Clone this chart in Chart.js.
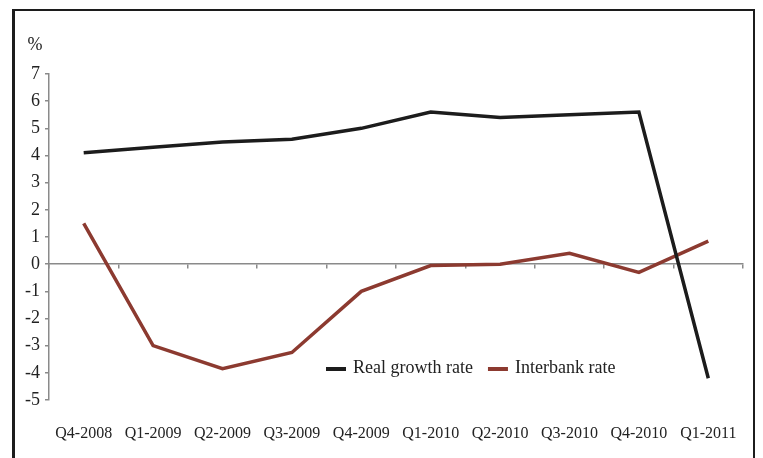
<!DOCTYPE html>
<html>
<head>
<meta charset="utf-8">
<script src="https://cdn.jsdelivr.net/npm/chart.js@4.4.1/dist/chart.umd.min.js"></script>
<style>
  html, body { margin: 0; padding: 0; background: #fff; overflow: hidden; }
  #wrap { position: relative; width: 763px; height: 458px; }
  #frame {
    position: absolute; left: 12px; top: 9px; width: 738px; height: 500px;
    border-left: 3px solid #1c1c1c; border-top: 2px solid #1c1c1c; border-right: 2px solid #1c1c1c;
    pointer-events: none;
  }
  canvas { position: absolute; left: 0; top: 0; }
</style>
</head>
<body>
<div id="wrap">
  <div id="frame"></div>
  <canvas id="chart" width="763" height="458"></canvas>
</div>
<script>
const quarters = ['Q4-2008', 'Q1-2009', 'Q2-2009', 'Q3-2009', 'Q4-2009',
  'Q1-2010', 'Q2-2010', 'Q3-2010', 'Q4-2010', 'Q1-2011'];
const realGrowth = [4.1, 4.3, 4.5, 4.6, 5.0, 5.6, 5.4, 5.5, 5.6, -4.2];
const interbank = [1.5, -3.0, -3.85, -3.25, -1.0, -0.05, 0.0, 0.4, -0.3, 0.85];
const yMin = -5;
const yMax = 7;

const serif = "'Liberation Serif', 'DejaVu Serif', serif";

// legend + unit label drawn inside the plot like the original
const extras = {
  id: 'extras',
  afterDraw(chart) {
    const ctx = chart.ctx;
    const area = chart.chartArea;
    ctx.save();
    ctx.fillStyle = '#222';
    ctx.font = '18px ' + serif;
    ctx.textAlign = 'center';
    ctx.textBaseline = 'middle';
    ctx.fillText('%', 35, 45);

    ctx.font = '18px ' + serif;
    ctx.textAlign = 'left';
    let x = area.left + 277;
    const y = area.bottom - 32;
    chart.data.datasets.forEach(ds => {
      ctx.strokeStyle = ds.borderColor;
      ctx.lineWidth = 4;
      ctx.beginPath();
      ctx.moveTo(x, y + 1);
      ctx.lineTo(x + 20, y + 1);
      ctx.stroke();
      ctx.fillStyle = '#222';
      ctx.fillText(ds.label, x + 27, y);
      x += 27 + ctx.measureText(ds.label).width + 15;
    });
    ctx.restore();
  }
};

new Chart(document.getElementById('chart'), {
  type: 'line',
  data: {
    labels: quarters,
    datasets: [
      {
        label: 'Real growth rate',
        data: realGrowth,
        borderColor: '#1c1c1c',
        borderWidth: 3.5,
        pointRadius: 0,
        tension: 0,
      },
      {
        label: 'Interbank rate',
        data: interbank,
        borderColor: '#8c3a30',
        borderWidth: 3.5,
        pointRadius: 0,
        tension: 0,
      },
    ],
  },
  options: {
    responsive: false,
    animation: false,
    layout: { padding: { top: 74, right: 20, left: 0, bottom: 0 } },
    plugins: {
      legend: { display: false },
      tooltip: { enabled: false },
    },
    scales: {
      x: {
        offset: true,
        grid: { display: false, drawTicks: false },
        border: { display: false },
        ticks: {
          color: '#222',
          font: { family: serif, size: 16 },
          padding: 24,
          maxRotation: 0,
          autoSkip: false,
        },
        afterFit(scale) { scale.height = 58; },
      },
      x2: {
        type: 'category',
        labels: quarters,
        offset: true,
        position: { y: 0 },
        grid: { offset: true, drawOnChartArea: false, drawTicks: true, tickLength: 4, color: '#8a8a8a', lineWidth: 1.5 },
        border: { display: true, color: '#8a8a8a', width: 1.5 },
        ticks: { display: false },
      },
      y: {
        min: yMin,
        max: yMax,
        grid: { drawOnChartArea: false, drawTicks: true, tickLength: 4, color: '#8a8a8a', lineWidth: 1.5 },
        border: { display: true, color: '#8a8a8a', width: 1.5 },
        ticks: {
          stepSize: 1,
          color: '#222',
          font: { family: serif, size: 18 },
          padding: 5,
        },
        afterFit(scale) { scale.width = 49; },
      },
    },
  },
  plugins: [extras],
});
</script>
</body>
</html>
